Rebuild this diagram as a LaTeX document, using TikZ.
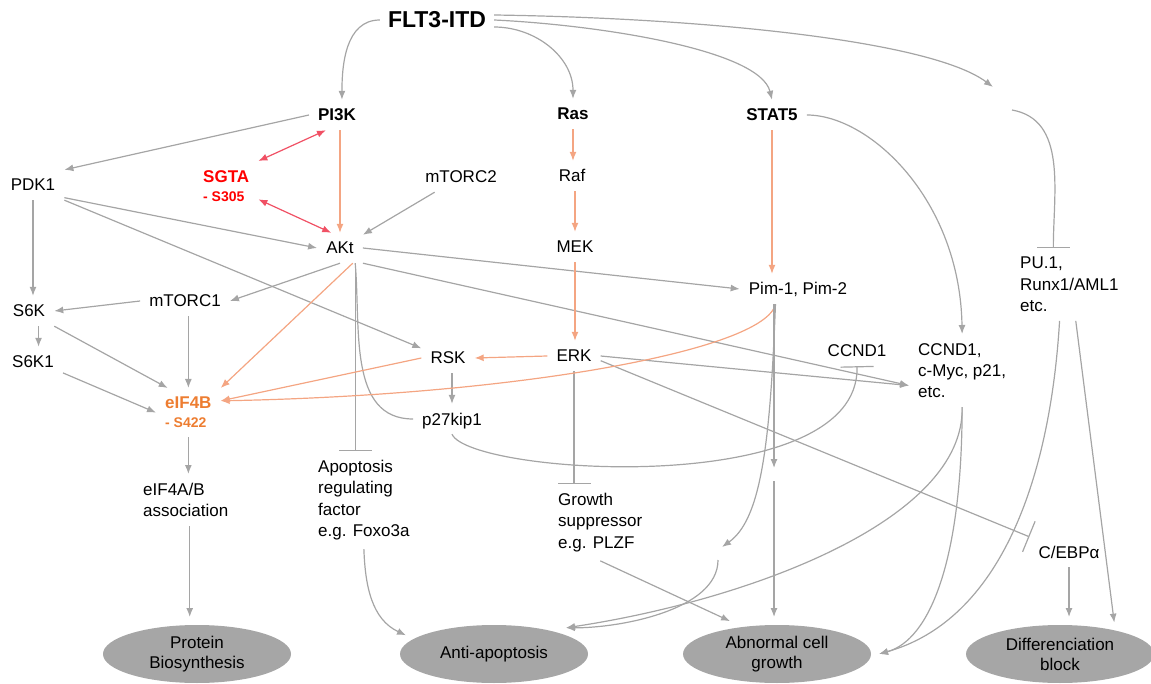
\documentclass[tikz,border=0pt]{standalone}
\usepackage{fontspec}
\setmainfont{Liberation Sans}
\usepackage{tikz}
\usetikzlibrary{arrows.meta,shapes.geometric}

\definecolor{lnGray}{RGB}{165,165,165}
\definecolor{ellGray}{RGB}{166,166,166}
\definecolor{salmon}{RGB}{244,165,130}
\definecolor{pinkRed}{RGB}{240,80,100}
\definecolor{sgtaRed}{RGB}{255,0,0}
\definecolor{eifOrange}{RGB}{237,125,49}

\begin{document}
\begin{tikzpicture}[x=1pt, y=-1pt,
  lbl/.style={font=\fontsize{17}{21.3}\selectfont, inner sep=9pt, text height=12pt, text depth=0pt},
  blbl/.style={lbl, font=\bfseries\fontsize{17}{21.3}\selectfont},
  multi/.style={font=\fontsize{17}{21.3}\selectfont, inner sep=9pt, align=left, anchor=north west},
  outcome/.style={ellipse, fill=ellGray, minimum width=188pt, minimum height=58pt, inner sep=0pt,
    outer sep=8pt, align=center, font=\fontsize{17}{20}\selectfont},
  act/.style={color=lnGray, line width=1.2pt, -{Latex[length=9pt,width=7pt]}},
  oact/.style={act, color=salmon},
  inh/.style={color=lnGray, line width=1.2pt, -{Bar[width=33pt]}},
  plain/.style={color=lnGray, line width=1.2pt},
  bind/.style={color=pinkRed, line width=1.2pt, {Latex[length=9pt,width=7pt]}-{Latex[length=9pt,width=7pt]}}]
\useasboundingbox (0,0) rectangle (1151,684);

% nodes
\node[blbl, font=\bfseries\fontsize{23}{26}\selectfont, inner sep=8pt, text height=16pt] (flt) at (437,20) {FLT3-ITD};
\node[blbl] (pi3k) at (337,115) {PI3K};
\node[blbl] (ras) at (573,114) {Ras};
\node[blbl] (stat5) at (772,115) {STAT5};
\node[lbl] (pdk1) at (33,185) {PDK1};
\node[multi, font=\bfseries\fontsize{17}{19}\selectfont, text=sgtaRed] (sgta) at (194,161)
  {SGTA\\{\fontsize{14}{19}\selectfont - S305}};
\node[lbl] (mtorc2) at (461,177) {mTORC2};
\node[lbl] (raf) at (572,176) {Raf};
\node[lbl] (akt) at (340,248) {AKt};
\node[lbl] (mek) at (575,247) {MEK};
\node[lbl] (pim) at (798,289) {Pim-1, Pim-2};
\node[multi] (pu1) at (1011,248) {PU.1,\\Runx1/AML1\\etc.};
\node[lbl] (s6k) at (29,311) {S6K};
\node[lbl] (mtorc1) at (185,301) {mTORC1};
\node[lbl] (s6k1) at (33,362) {S6K1};
\node[lbl] (rsk) at (448,358) {RSK};
\node[lbl] (erk) at (574,356) {ERK};
\node[lbl] (ccnd) at (857,351) {CCND1};
\node[multi] (myc) at (909,334) {CCND1,\\c-Myc, p21,\\etc.};
\node[multi, font=\bfseries\fontsize{17}{19}\selectfont, text=eifOrange] (eif4b) at (156,388)
  {eIF4B\\{\fontsize{14}{19}\selectfont - S422}};
\node[lbl] (p27) at (452,419) {p27kip1};
\node[multi] (eif4a) at (134,474) {eIF4A/B\\association};
\node[multi] (apop) at (309,451) {Apoptosis\\regulating\\factor\\e.g. Foxo3a};
\node[multi] (growth) at (549,484) {Growth\\suppressor\\e.g. PLZF};
\node[lbl] (cebp) at (1069,552) {C/EBPα};

\node[outcome] (prot) at (197,654) {Protein\\Biosynthesis};
\node[outcome] (anti) at (494,654) {Anti-apoptosis};
\node[outcome] (abn) at (777,654) {Abnormal cell\\growth};
\node[outcome] (diff) at (1060,654) {Differenciation\\block};

\coordinate (puIn) at (993,87);
\coordinate (puOut) at (1012,110);
\coordinate (pimA) at (774,468);
\coordinate (pimB) at (774,481);
\coordinate (pimC) at (722,547);
\coordinate (pimD) at (718,560);

% FLT3-ITD
\draw[act] (flt.west) to[out=180,in=90] (pi3k.72);
\draw[act] (flt.-7) to[out=0,in=90] (ras.north);
\draw[act] (flt.0) .. controls (600,25) and (760,50) .. (stat5.north);
\draw[act] (flt.5) .. controls (700,18) and (930,40) .. (puIn);
\draw[inh] (puOut) to[out=-10,in=90] ([xshift=-16pt]pu1.north);

% PI3K / AKt
\draw[act] (pi3k.west) -- (pdk1.north east);
\draw[oact] (akt.north |- pi3k.south) -- (akt.north);
\draw[bind] (sgta.north east) -- (pi3k.-126);
\draw[bind] (sgta.-23) -- (akt.120);
\draw[act] (mtorc2.-150) -- (akt.30);
\draw[act] (pdk1.south) -- (pdk1.south |- s6k.north);
\draw[act] (pdk1.-22) -- (akt.west);
\draw[act] (pdk1.south east) -- (rsk.160);
\draw[act] (akt.east) -- (pim.west);
\draw[act] (akt.south east) -- ([yshift=-15pt]myc.west);
\draw[act] (akt.south) -- (mtorc1.east);
\draw[oact] (akt.-50) -- (eif4b.north east);
\draw[inh] (akt.-45) -- (akt.-45 |- apop.north);
\draw[plain] (akt.-45) to[out=-85,in=180] (p27.west);

% mTORC1 / S6K / eIF4B
\draw[act] (mtorc1.west) -- (s6k.east);
\draw[act] (eif4b.north |- mtorc1.south) -- (eif4b.north);
\draw[act] (s6k1.70 |- s6k.south) -- (s6k1.70);
\draw[act] (s6k.south east) -- (eif4b.130);
\draw[act] (s6k1.-20) -- (eif4b.west);
\draw[act] (eif4b.south) -- (eif4b.south |- eif4a.north);
\draw[act] ([xshift=4pt]eif4a.south) -- ([xshift=4pt]eif4a.south |- prot.north);

% Ras branch
\draw[oact] (ras.south) -- (ras.south |- raf.north);
\draw[oact] (mek.north |- raf.south) -- (mek.north);
\draw[oact] (mek.south) -- (mek.south |- erk.north);
\draw[oact] (erk.west) -- (rsk.east);
\draw[oact] (rsk.west) -- (eif4b.20);
\draw[act] (p27.north |- rsk.south) -- (p27.north);
\draw[inh] (erk.south) -- (erk.south |- growth.north);
\draw[act] (erk.east) -- ([yshift=-15pt]myc.west);
\draw[inh] (erk.-10) -- (cebp.north west);
\draw[inh] (p27.south) .. controls (470,475) and (860,500) .. (ccnd.south);

% STAT5 branch
\draw[oact] (stat5.south) -- (stat5.south |- pim.north);
\draw[act] (stat5.east) .. controls (870,115) and (960,200) .. (myc.north);
\draw[oact] (pim.-146) .. controls (765,350) and (520,395) .. (eif4b.20);
\draw[act] (pimA |- pim.south) -- (pimA);
\draw[act] (pimB) -- (pimB |- abn.north);
\draw[act] (pim.-146) .. controls (770,450) and (760,520) .. (pimC);
\draw[act] (pimD) .. controls (718,610) and (620,628) .. (anti.20);

% outcomes
\draw[act] (apop.south) to[out=-88,in=155] (anti.168);
\draw[act] (growth.south) -- (abn.145);
\draw[act] (myc.south) .. controls (965,520) and (750,600) .. (anti.20);
\draw[act] (myc.south) .. controls (962,560) and (930,640) .. (abn.east);
\draw[act] (pu1.-105) .. controls (1050,480) and (1000,620) .. (abn.east);
\draw[act] (pu1.-80) -- (diff.30);
\draw[act] (cebp.south) -- (cebp.south |- diff.north);
\end{tikzpicture}
\end{document}
